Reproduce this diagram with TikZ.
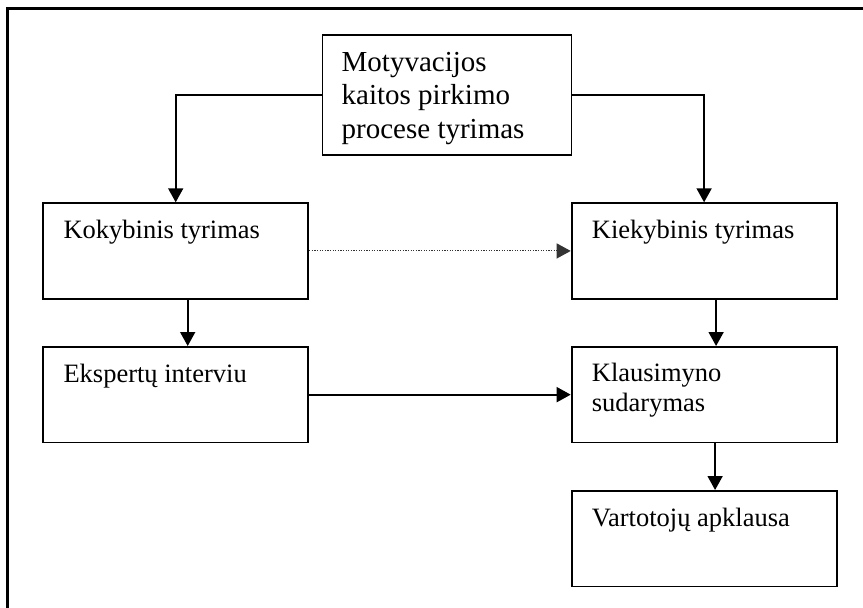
\documentclass[tikz,border=0pt]{standalone}
\usepackage{fontspec}
\setmainfont{Liberation Serif}
\usetikzlibrary{arrows.meta}

\tikzset{
  box/.style={draw=black, line width=1.8pt, fill=white, rectangle, inner sep=0pt,
              minimum width=265pt, minimum height=95.5pt, anchor=north west},
  topbox/.style={box, minimum width=249pt, minimum height=120pt},
  lbl/.style={anchor=base west, inner sep=0pt, font=\fontsize{26.5}{30.5}\selectfont},
  conn/.style={draw=black, line width=1.7pt, -{Triangle[width=15pt,length=14pt]}},
  dotconn/.style={draw=black!80, line width=1pt, dash pattern=on 1.3pt off 1.3pt,
                  -{Triangle[width=15pt,length=14pt]}},
  frame/.style={draw=black, line width=3pt}
}

\begin{document}
\begin{tikzpicture}[x=1pt,y=-1pt]
  \clip (0,0) rectangle (863,608);
  \fill[white] (0,0) rectangle (863,608);

  % outer frame (runs past the page on the right and bottom)
  \draw[frame] (7.3,8.5) rectangle (900,650);

  % boxes
  \node[topbox] (top) at (321.5,34) {};
  \node[box] (kok)  at (42.3,202.3) {};
  \node[box] (kie)  at (570.7,202.3) {};
  \node[box] (eks)  at (42.3,346) {};
  \node[box] (kla)  at (570.7,346) {};
  \node[box] (var)  at (570.7,490) {};

  % box texts
  \node[lbl] (ttop) at ([xshift=20pt,yshift=-37.7pt]top.north west)
    {\parbox[t]{230pt}{\fontsize{29}{33.2}\selectfont Motyvacijos\\kaitos pirkimo\\procese tyrimas}};
  \node[lbl] (tkok) at ([xshift=21pt,yshift=-36pt]kok.north west) {Kokybinis tyrimas};
  \node[lbl] (tkie) at ([xshift=21pt,yshift=-36pt]kie.north west) {Kiekybinis tyrimas};
  \node[lbl] (teks) at ([xshift=21pt,yshift=-36.5pt]eks.north west) {Ekspertų interviu};
  \node[lbl] (tkla) at ([xshift=21pt,yshift=-35pt]kla.north west)
    {\parbox[t]{230pt}{\fontsize{26.5}{30.5}\selectfont Klausimyno\\sudarymas}};
  \node[lbl] (tvar) at ([xshift=21pt,yshift=-36pt]var.north west) {Vartotojų apklausa};

  % connectors
  \draw[conn] (top.west) -| (kok.north);
  \draw[conn] (top.east) -| (kie.north);
  \draw[dotconn] (kok.east) -- (kie.west);
  \draw[conn] ([xshift=12pt]kok.south) -- ([xshift=12pt]eks.north);
  \draw[conn] ([xshift=12pt]kie.south) -- ([xshift=12pt]kla.north);
  \draw[conn] (eks.east) -- (kla.west);
  \draw[conn] ([xshift=11pt]kla.south) -- ([xshift=11pt]var.north);
\end{tikzpicture}
\end{document}
